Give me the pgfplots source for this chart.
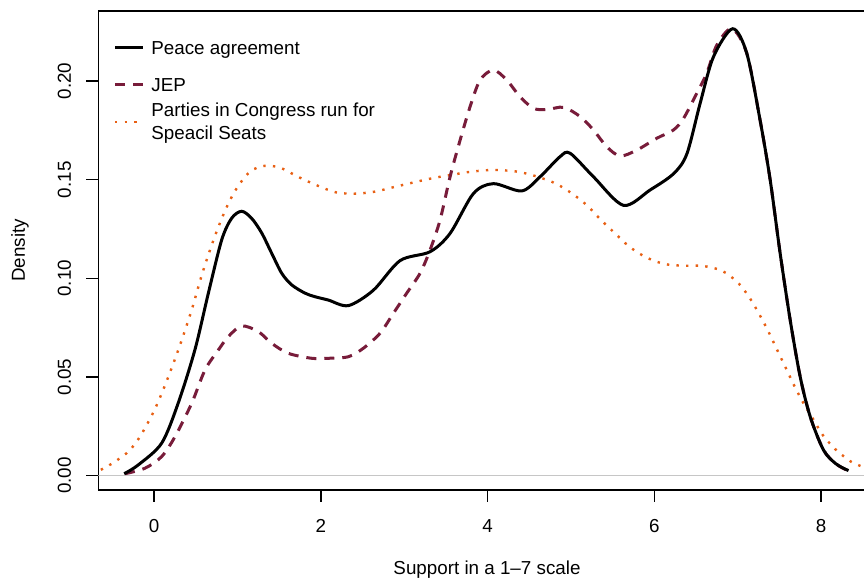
\documentclass[border=0pt]{standalone}
\usepackage{fontspec}
\setmainfont{Liberation Sans}
\usepackage{pgfplots}
\usepackage{pgfplotstable}
\pgfplotsset{compat=1.18}

\definecolor{jepred}{RGB}{120,28,58}
\definecolor{partyorange}{RGB}{232,96,20}

% Kernel density estimates of support (1-7 scale)
\pgfplotstableread{
x y
-0.36 0.0010
-0.19 0.0055
0.09 0.0165
0.29 0.0370
0.49 0.0640
0.65 0.0925
0.81 0.1195
0.93 0.1305
1.05 0.1340
1.17 0.1304
1.29 0.1230
1.41 0.1127
1.53 0.1026
1.65 0.0967
1.81 0.0925
1.93 0.0907
2.09 0.0890
2.33 0.0862
2.63 0.0940
2.95 0.1090
3.31 0.1135
3.55 0.1228
3.83 0.1430
4.07 0.1480
4.41 0.1443
4.63 0.1515
4.87 0.1617
4.99 0.1634
5.27 0.1515
5.63 0.1370
5.95 0.1448
6.23 0.1530
6.39 0.1630
6.55 0.1887
6.71 0.2123
6.94 0.2265
7.11 0.2140
7.27 0.1800
7.39 0.1500
7.51 0.1127
7.63 0.0790
7.75 0.0502
7.87 0.0300
8.03 0.0130
8.18 0.0060
8.33 0.0026
}\peacetab

\pgfplotstableread{
x y
-0.35 0.0010
-0.11 0.0038
0.09 0.0097
0.25 0.0198
0.45 0.0367
0.61 0.0536
0.77 0.0637
0.89 0.0705
1.05 0.0759
1.25 0.0730
1.41 0.0671
1.61 0.0620
1.89 0.0595
2.09 0.0595
2.33 0.0603
2.51 0.0646
2.71 0.0722
2.87 0.0823
3.03 0.0925
3.19 0.1026
3.31 0.1144
3.43 0.1296
3.55 0.1515
3.67 0.1700
3.79 0.1870
3.91 0.2005
4.07 0.2056
4.23 0.2005
4.39 0.1920
4.55 0.1862
4.71 0.1855
4.91 0.1867
5.11 0.1820
5.27 0.1752
5.43 0.1667
5.59 0.1620
5.79 0.1650
6.03 0.1710
6.23 0.1752
6.35 0.1810
6.51 0.1938
6.63 0.2040
6.75 0.2182
6.93 0.2265
7.11 0.2140
7.27 0.1800
7.39 0.1500
7.51 0.1127
7.63 0.0790
7.75 0.0502
7.87 0.0300
8.03 0.0130
8.18 0.0060
8.30 0.0030
}\jeptab

\pgfplotstableread{
x y
-0.64 0.0030
-0.50 0.0063
-0.31 0.0122
-0.17 0.0198
0.00 0.0330
0.14 0.0469
0.30 0.0650
0.45 0.0840
0.58 0.1029
0.73 0.1216
0.86 0.1352
0.97 0.1443
1.10 0.1520
1.20 0.1554
1.30 0.1569
1.42 0.1569
1.53 0.1558
1.74 0.1512
1.96 0.1470
2.18 0.1436
2.40 0.1429
2.64 0.1439
2.87 0.1462
3.10 0.1485
3.33 0.1507
3.56 0.1524
3.79 0.1540
4.02 0.1549
4.14 0.1549
4.37 0.1540
4.60 0.1515
4.82 0.1480
5.02 0.1428
5.20 0.1367
5.36 0.1296
5.53 0.1228
5.70 0.1161
5.90 0.1107
6.12 0.1073
6.35 0.1064
6.58 0.1063
6.81 0.1039
7.00 0.0980
7.14 0.0904
7.26 0.0818
7.37 0.0730
7.47 0.0641
7.57 0.0553
7.67 0.0464
7.78 0.0375
7.90 0.0291
8.02 0.0207
8.18 0.0131
8.36 0.0071
8.47 0.0050
8.65 0.0025
}\partiestab

\begin{document}
\begin{tikzpicture}[font=\fontsize{9.4}{11.3}\selectfont]
\useasboundingbox (0,0) rectangle (432pt,291pt);
\begin{axis}[
  at={(49.25pt,46pt)}, anchor=south west,
  scale only axis, width=388.5pt, height=239.5pt,
  xmin=-0.668, xmax=8.654, ymin=-0.00724, ymax=0.2355,
  xtick={0,2,4,6,8}, ytick={0,0.05,0.10,0.15,0.20},
  xtick pos=bottom, ytick pos=left,
  tick align=outside, major tick length=6pt,
  tick style={black, line width=0.7pt},
  axis line style={black, line width=0.7pt},
  /pgf/number format/assume math mode=true,
  yticklabel style={/pgf/number format/.cd, fixed, fixed zerofill, precision=2, /tikz/.cd, rotate=90, anchor=south, inner sep=0pt, yshift=7.5pt},
  xticklabel style={inner sep=0pt, yshift=-8.5pt},
  scaled y ticks=false,
  xlabel={Support in a 1--7 scale},
  ylabel={Density},
  xlabel style={at={(axis description cs:0.5,0)}, anchor=base, yshift=-42.3pt, inner sep=0pt},
  ylabel style={at={(axis description cs:0,0.5)}, anchor=center, yshift=39.25pt, inner sep=0pt},
  clip=true,
]
\addplot [gray!45, line width=0.6pt] coordinates {(-0.668,0) (8.654,0)};
\addplot [partyorange, line width=1.2pt, dash pattern=on 1.2pt off 3.6pt, smooth, tension=0.5] table {\partiestab};
\addplot [jepred, line width=1.5pt, dash pattern=on 5pt off 4pt, smooth, tension=0.5] table {\jeptab};
\addplot [black, line width=1.5pt, smooth, tension=0.5] table {\peacetab};
\end{axis}
% legend
\draw [black, line width=1.5pt] (57.5pt,267pt) -- (71.5pt,267pt);
\draw [jepred, line width=1.5pt, dash pattern=on 5pt off 4pt] (57.5pt,248.5pt) -- (71.5pt,248.5pt);
\draw [partyorange, line width=1.2pt, dash pattern=on 1.2pt off 3.6pt] (57.5pt,230pt) -- (68.8pt,230pt);
\node [anchor=base west, inner sep=0pt] at (75.5pt,263.5pt) {Peace agreement};
\node [anchor=base west, inner sep=0pt] at (75.5pt,245.15pt) {JEP};
\node [anchor=base west, inner sep=0pt] at (75.5pt,232.65pt) {Parties in Congress run for};
\node [anchor=base west, inner sep=0pt] at (75.5pt,221.35pt) {Speacil Seats};
\end{tikzpicture}
\end{document}
